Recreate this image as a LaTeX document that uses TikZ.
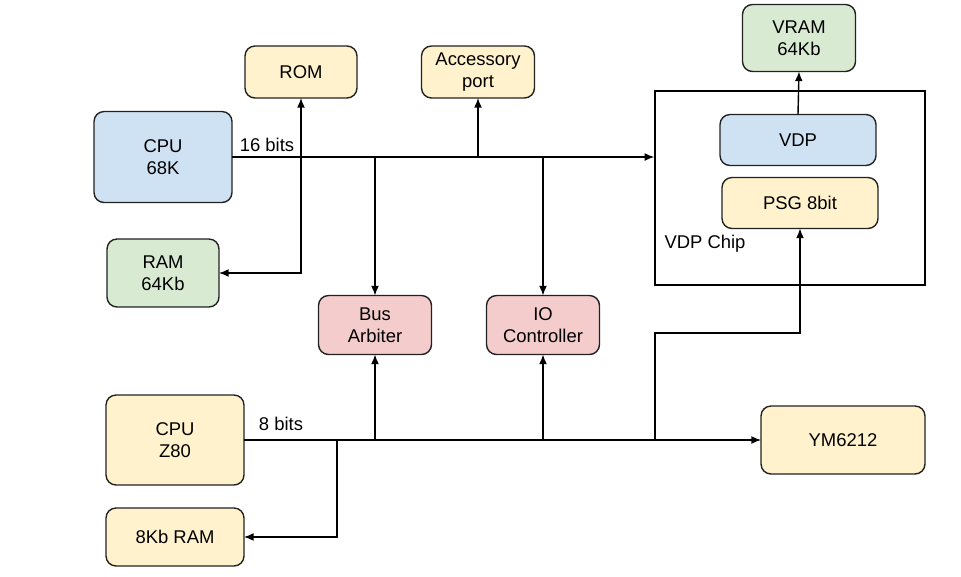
\documentclass[tikz,border=0pt]{standalone}
\usepackage{fontspec}
\setmainfont{Liberation Sans}
\usepackage{tikz}
\usetikzlibrary{positioning, arrows.meta}
\definecolor{chipblue}{HTML}{CFE2F3}
\definecolor{memgreen}{HTML}{D9EAD3}
\definecolor{partyellow}{HTML}{FFF2CC}
\definecolor{ctrlred}{HTML}{F4CCCC}
\definecolor{edgegray}{HTML}{222222}
\tikzstyle{block} = [
    rectangle,
    draw = edgegray,
    line width = 0.8pt,
    align = center,
    rounded corners = 0.2cm,
    inner sep = 0pt,
    outer sep = 0pt
]
\tikzstyle{chip} = [
    block,
    fill = chipblue
]
\tikzstyle{memory} = [
    block,
    fill = memgreen
]
\tikzstyle{part} = [
    block,
    fill = partyellow
]
\tikzstyle{control} = [
    block,
    fill = ctrlred
]
\tikzstyle{bus} = [
    draw = black,
    line width = 0.8pt,
    -{Latex[length=5.5pt,width=4.5pt]}
]
\begin{document}
\begin{tikzpicture}[x=0.02cm, y=-0.02cm, font=\fontsize{10.5pt}{12.5pt}\selectfont]

                \useasboundingbox (0,0) rectangle (961,576);

                % 68K side
                \node [chip, minimum width = 2.76cm, minimum height = 1.82cm] (cpu68) at (163,157) {CPU\\68K};
                \node [memory, minimum width = 2.24cm, minimum height = 1.36cm] (ram64) at (163,273) {RAM\\64Kb};
                \node [part, minimum width = 2.24cm, minimum height = 1.04cm] (rom) at (301,72) {ROM};
                \node [part, minimum width = 2.26cm, minimum height = 1.04cm] (acc) at (478,72) {Accessory\\port};
                \node [control, minimum width = 2.26cm, minimum height = 1.18cm] (arb) at (375,325) {Bus\\Arbiter};
                \node [control, minimum width = 2.26cm, minimum height = 1.18cm] (io) at (543,325) {IO\\Controller};

                % VDP chip
                \node [draw = black, line width = 0.8pt, minimum width = 5.4cm, minimum height = 3.88cm, inner sep = 0pt] (vdpchip) at (790,188) {};
                \node [chip, minimum width = 3.12cm, minimum height = 1.02cm] (vdp) at (798,140) {VDP};
                \node [part, minimum width = 3.12cm, minimum height = 1.02cm] (psg) at (800,203) {PSG 8bit};
                \node [memory, minimum width = 2.26cm, minimum height = 1.34cm] (vram) at (799,38) {VRAM\\64Kb};
                \node (chipLabel) at (705,244) {VDP Chip};

                % Z80 side
                \node [part, minimum width = 2.76cm, minimum height = 1.8cm] (z80) at (175,440) {CPU\\Z80};
                \node [part, minimum width = 2.76cm, minimum height = 1.16cm] (ram8) at (175,537) {8Kb RAM};
                \node [part, minimum width = 3.28cm, minimum height = 1.36cm] (ym) at (843,440) {YM6212};

                % 16 bit bus
                \node (bits16) at (267,145) {16 bits};
                \draw [bus] (cpu68.east) -- (cpu68.east -| vdpchip.west);
                \draw [bus, {Latex[length=5.5pt,width=4.5pt]}-{Latex[length=5.5pt,width=4.5pt]}] (ram64.east) -| (rom.south);
                \draw [bus] (cpu68.east -| acc.south) -- (acc.south);
                \draw [bus] (cpu68.east -| arb.north) -- (arb.north);
                \draw [bus] (cpu68.east -| io.north) -- (io.north);
                \draw [bus] (vdp.north) -- (vram.south);

                % 8 bit bus
                \node (bits8) at (281,424) {8 bits};
                \coordinate (tapRam8) at (337,440);
                \coordinate (tapPsg) at (655,440);
                \coordinate (bendPsg) at (655,333);
                \draw [bus] (z80.east) -- (ym.west);
                \draw [bus] (tapRam8) |- (ram8.east);
                \draw [bus] (z80.east -| arb.south) -- (arb.south);
                \draw [bus] (z80.east -| io.south) -- (io.south);
                \draw [bus] (tapPsg) -- (bendPsg) -| (psg.south);

            \end{tikzpicture}
\end{document}
